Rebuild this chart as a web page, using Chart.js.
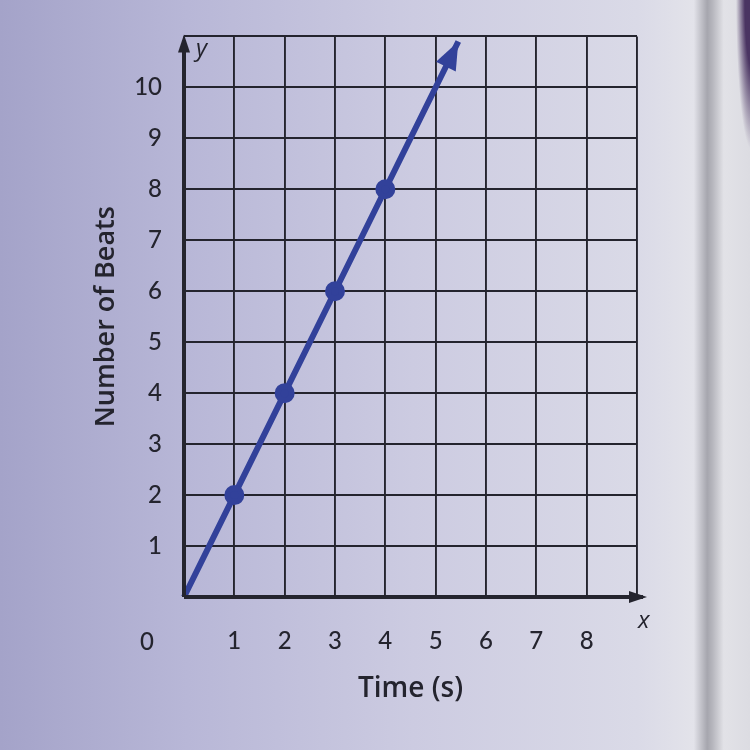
<!DOCTYPE html>
<html>
<head>
<meta charset="utf-8">
<script src="https://cdn.jsdelivr.net/npm/chart.js@4.4.0/dist/chart.umd.min.js"></script>
<style>
  html, body { margin: 0; padding: 0; }
  body {
    width: 750px; height: 750px; overflow: hidden;
    background:
      radial-gradient(ellipse 16px 150px at 752px 0px, #4a3462 0%, #4a3462 45%, rgba(74,52,98,0) 100%),
      linear-gradient(90deg, #a4a3c9 0%, #b8b7d7 25%, #cccbe1 55%, #dadae7 85%, #e3e3ea 92.5%, #a6a6ae 94.3%, #b6b6bd 95%, #e2e2e7 96.5%, #dcdce2 100%);
  }
  #wrap { position: relative; width: 750px; height: 750px; }
</style>
</head>
<body>
<div id="wrap"><canvas id="beatsChart" width="750" height="750"></canvas></div>
<script>
// beats counted over time, the last pair is where the arrow ends
var timeValues = [0, 1, 2, 3, 4, 5.45];
var beatValues = [0, 2, 4, 6, 8, 10.9];
var pointSizes = [0, 7, 7, 7, 7, 0];

var xTickLabels = ['1', '2', '3', '4', '5', '6', '7', '8'];
var yTickLabels = ['1', '2', '3', '4', '5', '6', '7', '8', '9', '10'];

var inkColor = '#24242e';
var lineColor = '#32419a';

var points = timeValues.map(function(t, i) {
  return { x: t, y: beatValues[i] };
});

function arrowHead(ctx, x0, y0, x1, y1, len, half, color) {
  var a = Math.atan2(y1 - y0, x1 - x0);
  ctx.save();
  ctx.fillStyle = color;
  ctx.beginPath();
  ctx.moveTo(x1, y1);
  ctx.lineTo(x1 - len * Math.cos(a) + half * Math.sin(a), y1 - len * Math.sin(a) - half * Math.cos(a));
  ctx.lineTo(x1 - len * Math.cos(a) - half * Math.sin(a), y1 - len * Math.sin(a) + half * Math.cos(a));
  ctx.closePath();
  ctx.fill();
  ctx.restore();
}

// axis arrows, the x / y letters, the origin zero and the arrow on the data line
var extras = {
  id: 'extras',
  afterDatasetsDraw: function(chart) {
    var ctx = chart.ctx;
    var xs = chart.scales.x, ys = chart.scales.y;
    var ox = xs.getPixelForValue(0), oy = ys.getPixelForValue(0);
    var right = xs.getPixelForValue(9), top = ys.getPixelForValue(11);

    ctx.save();
    ctx.strokeStyle = inkColor;
    ctx.lineWidth = 4;
    ctx.beginPath();
    ctx.moveTo(ox, oy);
    ctx.lineTo(right + 6, oy);
    ctx.moveTo(ox, oy);
    ctx.lineTo(ox, top + 4);
    ctx.stroke();
    ctx.restore();
    arrowHead(ctx, ox, oy, right + 10, oy, 18, 6, inkColor);
    arrowHead(ctx, ox, oy, ox, top - 2, 18, 6, inkColor);

    var n = timeValues.length;
    var ax = xs.getPixelForValue(timeValues[n - 2]), ay = ys.getPixelForValue(beatValues[n - 2]);
    var bx = xs.getPixelForValue(timeValues[n - 1]), by = ys.getPixelForValue(beatValues[n - 1]);
    arrowHead(ctx, ax, ay, bx, by, 28, 11, lineColor);

    ctx.save();
    ctx.fillStyle = inkColor;
    ctx.font = 'italic 24px "Open Sans"';
    ctx.textAlign = 'left';
    ctx.textBaseline = 'middle';
    ctx.fillText('y', ox + 12, top + 13);
    ctx.fillText('x', right + 1, oy + 24);
    ctx.font = '500 24px Lato';
    ctx.textAlign = 'center';
    ctx.fillText('0', ox - 37, oy + 45);
    ctx.restore();
  }
};

new Chart(document.getElementById('beatsChart'), {
  type: 'scatter',
  data: {
    datasets: [{
      data: points,
      showLine: true,
      borderColor: lineColor,
      backgroundColor: lineColor,
      borderWidth: 6,
      pointRadius: pointSizes,
      pointHoverRadius: pointSizes,
      clip: false
    }]
  },
  options: {
    responsive: false,
    animation: false,
    events: [],
    layout: { padding: { left: 74, right: 113, top: 35, bottom: 0 } },
    plugins: { legend: { display: false }, tooltip: { enabled: false } },
    scales: {
      x: {
        type: 'linear',
        min: 0,
        max: 9,
        afterFit: function(s) { s.height = 153; },
        border: { display: false },
        grid: { color: inkColor, lineWidth: 1.9, drawTicks: false },
        ticks: {
          stepSize: 1,
          padding: 30,
          color: inkColor,
          font: { family: 'Lato', size: 24, weight: '500' },
          callback: function(v) { return v >= 1 && v <= 8 ? xTickLabels[v - 1] : ''; }
        },
        title: {
          display: true,
          text: 'Time (s)',
          color: inkColor,
          font: { family: 'Open Sans', size: 28, weight: '600' },
          padding: { top: 4, bottom: 44 }
        }
      },
      y: {
        type: 'linear',
        min: 0,
        max: 11,
        afterFit: function(s) { s.width = 110; },
        border: { display: false },
        grid: { color: inkColor, lineWidth: 1.9, drawTicks: false },
        ticks: {
          stepSize: 1,
          padding: 22,
          color: inkColor,
          font: { family: 'Lato', size: 24, weight: '500' },
          callback: function(v) { return v >= 1 && v <= 10 ? yTickLabels[v - 1] : ''; }
        },
        title: {
          display: true,
          text: 'Number of Beats',
          color: inkColor,
          font: { family: 'Open Sans', size: 27, weight: '600' },
          padding: { top: 16, bottom: 4 }
        }
      }
    }
  },
  plugins: [extras]
});
</script>
</body>
</html>
